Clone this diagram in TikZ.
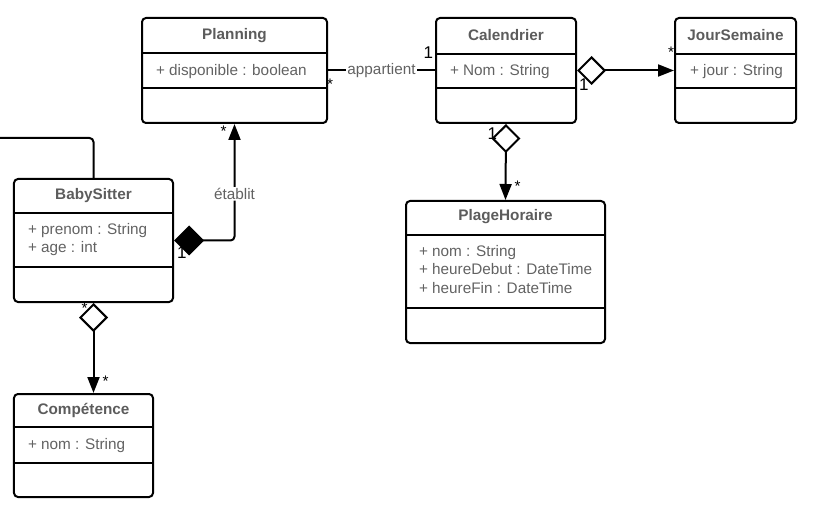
\documentclass[tikz,border=0pt]{standalone}
\usepackage{fontspec}
\setmainfont{Liberation Sans}
\usetikzlibrary{arrows.meta,positioning}
\definecolor{titlegray}{RGB}{92,92,92}
\definecolor{attrgray}{RGB}{98,98,98}

\begin{document}
\begin{tikzpicture}[x=1bp,y=-1bp,line width=2bp,
		font=\fontsize{15.3bp}{18bp}\selectfont,
		classbox/.style={draw,rounded corners=4bp,inner sep=0},
		classname/.style={font=\fontsize{15.3bp}{18bp}\selectfont\bfseries,text=titlegray},
		attr/.style={anchor=west,inner sep=0,text=attrgray,text height=11bp,text depth=3bp,yshift=-1.5bp},
		assoc/.style={fill=white,text=attrgray,inner sep=1bp},
		mult/.style={inner sep=1bp,text=black},
		multone/.style={mult,font=\fontsize{17bp}{17bp}\selectfont},
		agg/.style={{Diamond[open,length=29bp,width=29bp]}-{Triangle[length=16bp,width=12bp]}},
		comp/.style={{Diamond[length=30bp,width=30bp]}-{Triangle[length=16bp,width=12bp]}}]
	\useasboundingbox (0,0) rectangle (814,517);
	% classes
	\node[classbox,minimum width=185bp,minimum height=105bp] (planning) at (234.5,70.5) {};
	\draw (planning.west |- 0,53) -- (planning.east |- 0,53);
	\draw (planning.west |- 0,88) -- (planning.east |- 0,88);
	\node[classname] (planning-t) at (234.5,35.5) {Planning};
	\node[attr] (planning-a1) at (155,70) {+ disponible : boolean};

	\node[classbox,minimum width=140bp,minimum height=105bp] (calendrier) at (506,70.5) {};
	\draw (calendrier.west |- 0,54) -- (calendrier.east |- 0,54);
	\draw (calendrier.west |- 0,88) -- (calendrier.east |- 0,88);
	\node[classname] (calendrier-t) at (506,35.5) {Calendrier};
	\node[attr] (calendrier-a1) at (449,70) {+ Nom : String};

	\node[classbox,minimum width=121bp,minimum height=105bp] (joursemaine) at (735.5,70.5) {};
	\draw (joursemaine.west |- 0,54) -- (joursemaine.east |- 0,54);
	\draw (joursemaine.west |- 0,88) -- (joursemaine.east |- 0,88);
	\node[classname] (joursemaine-t) at (735.5,35.5) {JourSemaine};
	\node[attr] (joursemaine-a1) at (689,70) {+ jour : String};

	\node[classbox,minimum width=159bp,minimum height=123bp] (babysitter) at (93.5,240.5) {};
	\draw (babysitter.west |- 0,213) -- (babysitter.east |- 0,213);
	\draw (babysitter.west |- 0,267) -- (babysitter.east |- 0,267);
	\node[classname] (babysitter-t) at (93.5,195.5) {BabySitter};
	\foreach \t [count=\i] in {+ prenom : String,+ age : int}
		\node[attr] (babysitter-a\i) at (27,{229+18.5*(\i-1)}) {\t};

	\node[classbox,minimum width=139bp,minimum height=103bp] (competence) at (83.5,445.5) {};
	\draw (competence.west |- 0,427) -- (competence.east |- 0,427);
	\draw (competence.west |- 0,463) -- (competence.east |- 0,463);
	\node[classname] (competence-t) at (83.5,410) {Compétence};
	\node[attr] (competence-a1) at (27,444) {+ nom : String};

	\node[classbox,minimum width=199bp,minimum height=142bp] (plagehoraire) at (505.5,272) {};
	\draw (plagehoraire.west |- 0,235) -- (plagehoraire.east |- 0,235);
	\draw (plagehoraire.west |- 0,308) -- (plagehoraire.east |- 0,308);
	\node[classname] (plagehoraire-t) at (505.5,217) {PlageHoraire};
	\foreach \t [count=\i] in {+ nom : String,+ heureDebut : DateTime,+ heureFin : DateTime}
		\node[attr] (plagehoraire-a\i) at (418,{251+18.5*(\i-1)}) {\t};

	% associations
	\draw (planning.east) -- node[assoc] (appartient) {appartient} (calendrier.west)
		node[mult,pos=0,below right=6bp and -3bp] (m1) {*}
		node[multone,pos=1,above left=10bp and 0bp] (m2) {1};
	\draw[agg] (calendrier.east) -- (joursemaine.west)
		node[multone,pos=0,below right=6bp and 0bp] (m3) {1}
		node[mult,pos=1,above left=11bp and -2bp] (m4) {*};
	\draw[agg] (calendrier.south) -- (plagehoraire.north)
		node[multone,pos=0,below left=2bp and 7bp] (m5) {1}
		node[mult,pos=1,above right=6bp and 7bp] (m6) {*};
	\draw[comp,rounded corners=4bp] (babysitter.east) -| node[assoc,pos=0.7] (etablit) {établit} (planning.south)
		node[multone,pos=0,below right=4.5bp and 1bp] (m7) {1}
		node[mult,pos=1,below left=0bp and 6bp] (m8) {*};
	\draw[agg] (babysitter.south) -- (babysitter.south |- competence.north)
		node[mult,pos=0,below left=-2bp and 4bp] (m9) {*}
		node[mult,pos=1,above right=5bp and 7bp] (m10) {*};
	\coordinate (loose) at (0,138);
	\draw[rounded corners=4bp] (loose) -| (babysitter.north);
\end{tikzpicture}
\end{document}
